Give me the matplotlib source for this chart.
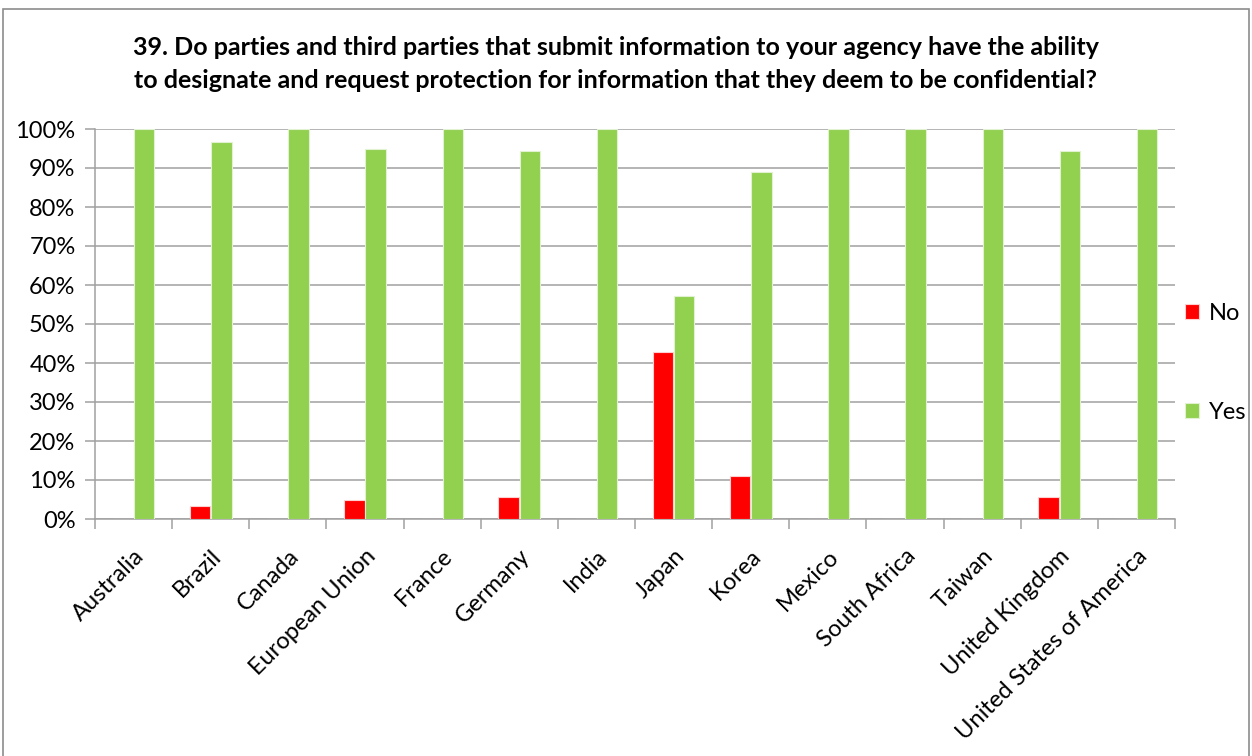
import matplotlib.pyplot as plt
import numpy as np
from matplotlib.patches import Rectangle
from matplotlib.ticker import PercentFormatter

countries = ["Australia", "Brazil", "Canada", "European Union", "France", "Germany",
             "India", "Japan", "Korea", "Mexico", "South Africa", "Taiwan",
             "United Kingdom", "United States of America"]
no_pct = [0, 3.3, 0, 5.0, 0, 5.6, 0, 42.9, 11.1, 0, 0, 0, 5.6, 0]
yes_pct = [100, 96.7, 100, 95.0, 100, 94.4, 100, 57.1, 88.9, 100, 100, 100, 94.4, 100]
title = ("39. Do parties and third parties that submit information to your agency have the ability\n"
         "to designate and request protection for information that they deem to be confidential?")

plt.rcParams["font.family"] = ["Lato", "DejaVu Sans"]

fig = plt.figure(figsize=(12.52, 7.56), dpi=100)
W, H = 1252, 756
# plot area in pixels: left 95, right 1175, top 129, bottom 519
ax = fig.add_axes([95 / W, 1 - 519 / H, (1175 - 95) / W, (519 - 129) / H])

# outer chart border
fig.patches.append(Rectangle((3 / W, -0.05), (1249 - 3) / W, 1.05 - 9 / H,
                             transform=fig.transFigure, fill=False,
                             edgecolor="#8c8c8c", linewidth=1.2))

x = np.arange(len(countries))
w = 0.265
ax.bar(x - w / 2 - 0.005, no_pct, w, color="#ff0000", edgecolor="#ffd0d0",
       linewidth=0.8, label="No", zorder=3)
ax.bar(x + w / 2 + 0.005, yes_pct, w, color="#92d050", edgecolor="#e0f2d0",
       linewidth=0.8, label="Yes", zorder=3)

ax.set_xlim(-0.5, len(countries) - 0.5)
ax.set_ylim(0, 100)
ax.set_yticks(np.arange(0, 101, 10))
ax.yaxis.set_major_formatter(PercentFormatter(decimals=0))
ax.grid(axis="y", color="#a0a0a0", linewidth=1.1, zorder=0)
ax.set_axisbelow(True)

ax.set_xticks(x)
ax.set_xticklabels(countries, rotation=45, ha="right", rotation_mode="anchor")
ax.set_xticks(np.arange(-0.5, len(countries)), minor=True)
ax.tick_params(axis="x", which="major", length=0, labelsize=17, pad=19)
ax.tick_params(axis="x", which="minor", length=7, color="#a0a0a0", width=1.1)
ax.tick_params(axis="y", length=7, color="#a0a0a0", width=1.1, labelsize=17, pad=7)

for s in ["top", "right"]:
    ax.spines[s].set_visible(False)
for s in ["left", "bottom"]:
    ax.spines[s].set_color("#a0a0a0")
    ax.spines[s].set_linewidth(1.1)

fig.text(616 / W, 1 - 64 / H, title, ha="center", va="center", fontsize=18,
         fontweight="bold", linespacing=1.5)

ax.legend(loc="center left", bbox_to_anchor=(1185 / W, 1 - 363 / H),
          bbox_transform=fig.transFigure, frameon=False,
          fontsize=17, handlelength=0.6, handleheight=0.6, handletextpad=0.4,
          labelspacing=3.3, borderpad=0, borderaxespad=0)

fig.savefig("out.png", dpi=100)
